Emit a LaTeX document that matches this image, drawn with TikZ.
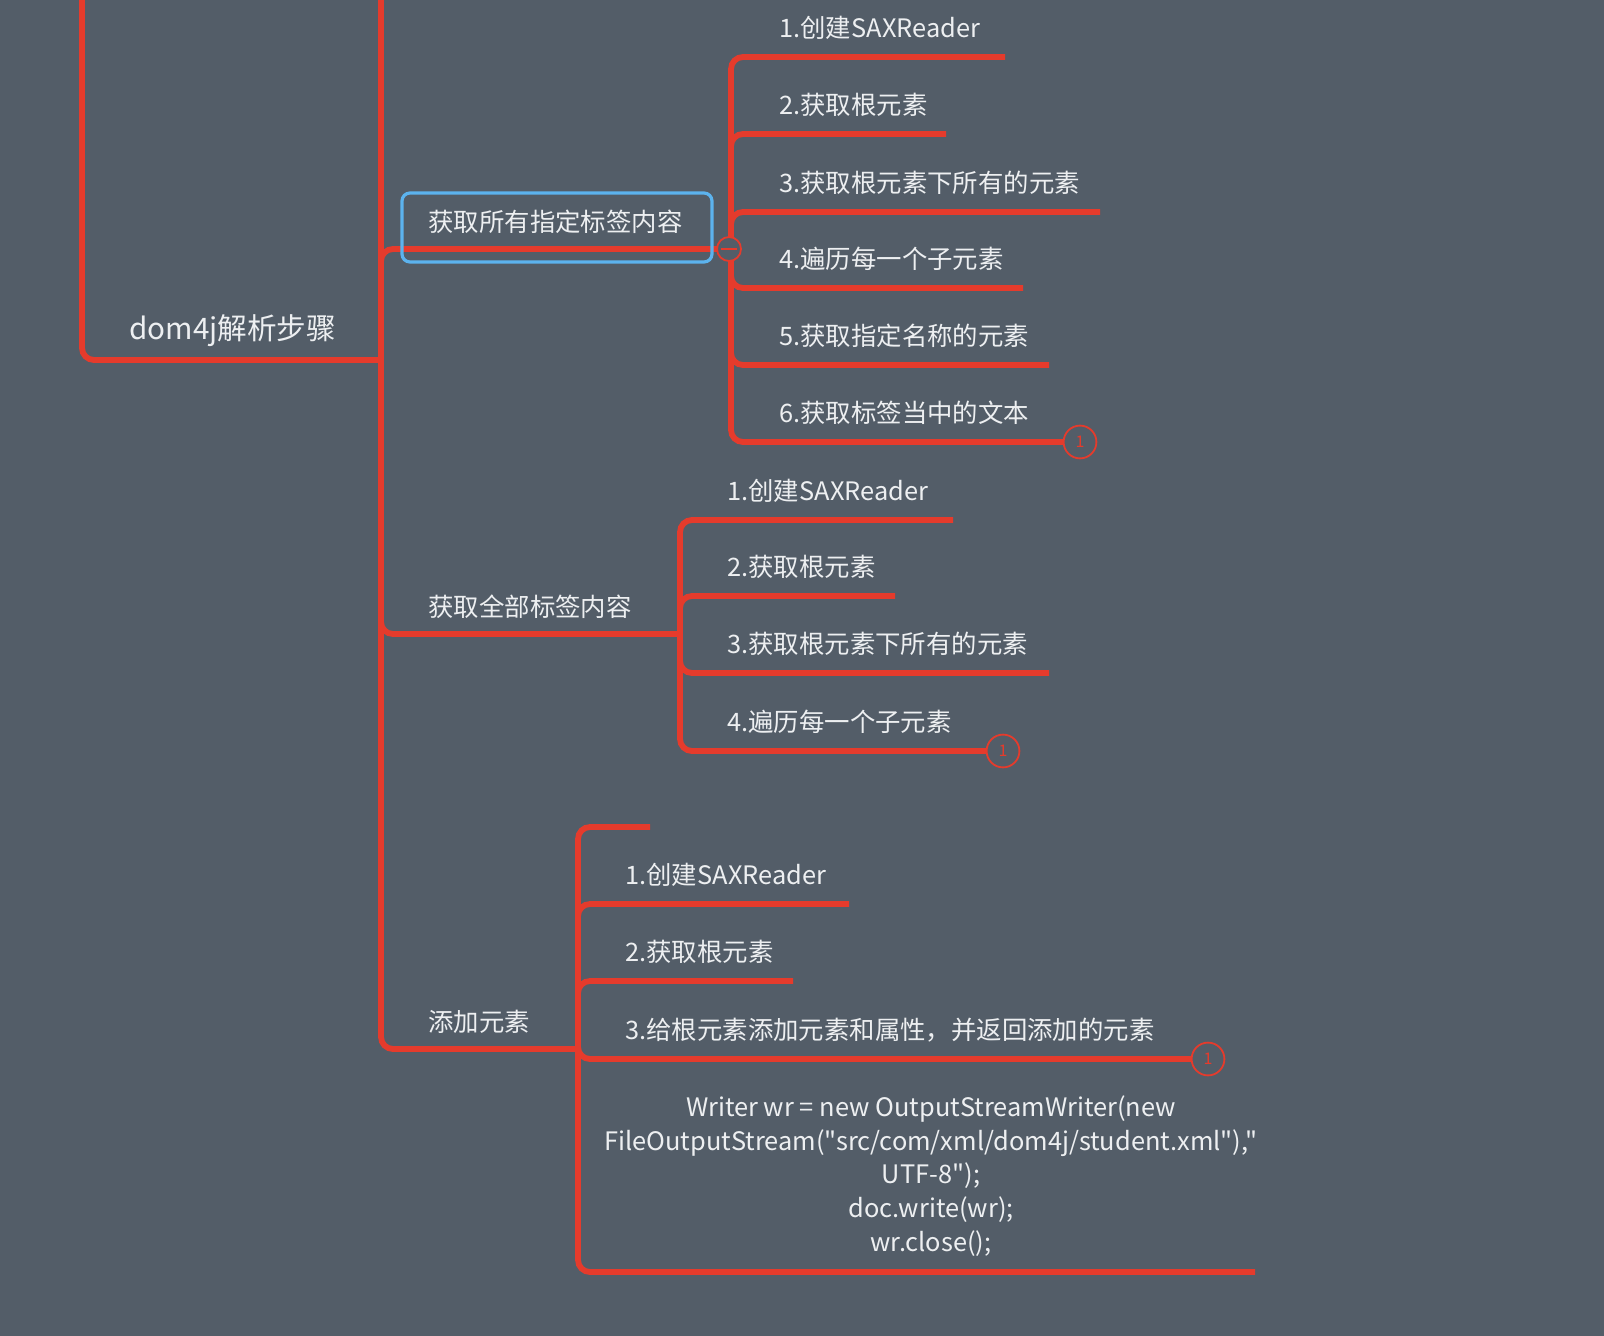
\documentclass[tikz,border=0pt]{standalone}
\usepackage{fontspec}
\setmainfont{Noto Sans CJK SC}
\newfontfamily\codefont{Noto Sans CJK SC}
\usepackage{xcolor}
\usetikzlibrary{positioning}
\definecolor{mapBg}{HTML}{535D68}
\definecolor{mapRed}{HTML}{E53B2C}
\definecolor{mapBlue}{HTML}{5CB3EE}
\definecolor{mapText}{HTML}{EDEFF1}

\begin{document}
\begin{tikzpicture}[
  x=0.5pt, y=-0.5pt,
  link/.style={mapRed, line width=2.9pt, rounded corners=6pt},
  topic/.style={text=mapText, font=\fontsize{12.7}{16.8}\selectfont, inner sep=0pt, anchor=west},
  fold/.style={circle, draw=mapRed, line width=0.9pt, fill=mapBg, inner sep=0pt,
    minimum size=16.4pt, text=mapRed, font=\fontsize{8}{9}\selectfont},
  selbox/.style={draw=mapBlue, line width=1.6pt, rounded corners=4pt},
]
% Background
\fill[mapBg] (0,0) rectangle (1604,1336);
\useasboundingbox (0,0) rectangle (1604,1336);

% Root topic and the branches going out of view
\node[topic, font=\fontsize{14.8}{18}\selectfont] (root) at (129,331) {dom4j解析步骤};
\coordinate (root-e) at (381,360);
\coordinate (top-l) at (82,-10);
\coordinate (top-r) at (381,-10);
\draw[link] (top-l) |- (root-e);
\draw[link] (root-e) -- (top-r);

% Main branches
\node[topic] (b1) at (428,222) {获取所有指定标签内容};
\coordinate (b1-e) at (731,249);
\node[topic] (b2) at (428,607) {获取全部标签内容};
\coordinate (b2-e) at (680,634);
\node[topic] (b3) at (428,1022) {添加元素};
\coordinate (b3-e) at (578,1049);
\foreach \b in {b1,b2,b3}
  \draw[link] (root-e) |- (\b-e);

% Branch 1: all named tags
\foreach \i/\y/\xe/\txt in {1/57/1005/1.创建SAXReader, 2/134/946/2.获取根元素,
    3/212/1100/3.获取根元素下所有的元素, 4/288/1023/4.遍历每一个子元素,
    5/365/1049/5.获取指定名称的元素, 6/442/1080/6.获取标签当中的文本} {
  \node[topic] (b1c\i) at (779,\y-29) {\txt};
  \coordinate (b1c\i-e) at (\xe,\y);
  \draw[link] (b1-e) |- (b1c\i-e);
}

% Branch 2: all tags
\foreach \i/\y/\xe/\txt in {1/520/953/1.创建SAXReader, 2/596/895/2.获取根元素,
    3/673/1049/3.获取根元素下所有的元素, 4/751/1003/4.遍历每一个子元素} {
  \node[topic] (b2c\i) at (727,\y-29) {\txt};
  \coordinate (b2c\i-e) at (\xe,\y);
  \draw[link] (b2-e) |- (b2c\i-e);
}

% Branch 3: adding elements
\coordinate (b3c0-e) at (650,827);
\draw[link] (b3-e) |- (b3c0-e);
\foreach \i/\y/\xe/\txt in {1/904/849/1.创建SAXReader, 2/981/793/2.获取根元素,
    3/1059/1208/3.给根元素添加元素和属性，并返回添加的元素} {
  \node[topic] (b3c\i) at (625,\y-29) {\txt};
  \coordinate (b3c\i-e) at (\xe,\y);
  \draw[link] (b3-e) |- (b3c\i-e);
}
\node[topic, anchor=center, align=center, font=\codefont\fontsize{12.7}{16.8}\selectfont] (b3c4) at (931,1176)
  {Writer wr = new OutputStreamWriter(new\\
   FileOutputStream("src/com/xml/dom4j/student.xml"),"\\
   UTF-8");\\
   doc.write(wr);\\
   wr.close();};
\coordinate (b3c4-e) at (1255,1272);
\draw[link] (b3-e) |- (b3c4-e);

% Selection box and fold markers
\draw[selbox] (402,193) rectangle (712,262);
\node[fold, minimum size=12pt] (b1-f) at (729,249) {};
\draw[mapRed, line width=0.9pt] ([xshift=-3.8pt]b1-f.center) -- ([xshift=3.8pt]b1-f.center);
\foreach \c in {b1c6,b2c4,b3c3}
  \node[fold] (\c-f) at (\c-e) {1};
\end{tikzpicture}
\end{document}
